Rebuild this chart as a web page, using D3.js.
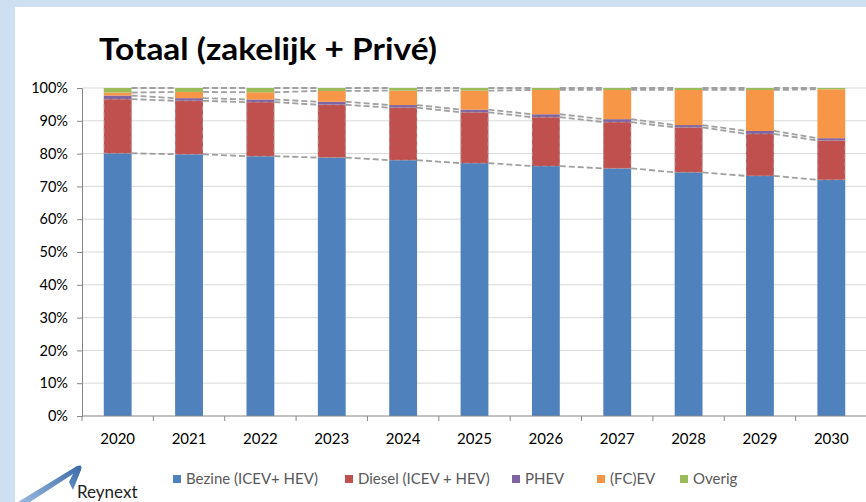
<!DOCTYPE html>
<html><head><meta charset="utf-8">
<script src="https://cdn.jsdelivr.net/npm/d3@7"></script>
<style>body{margin:0;padding:0;overflow:hidden;background:#cddff0}svg{display:block}</style>
</head><body>
<svg id="chart" width="866" height="502"></svg>
<script>
const years = ["2020","2021","2022","2023","2024","2025","2026","2027","2028","2029","2030"];
const bezine = [80.1, 79.8, 79.2, 78.8, 78.0, 77.1, 76.2, 75.5, 74.3, 73.2, 72.0];
const diesel = [16.5, 16.3, 16.5, 16.1, 16.0, 15.5, 14.9, 14.1, 13.7, 12.8, 12.0];
const phev   = [1.1, 0.8, 0.8, 0.9, 0.8, 0.8, 0.9, 0.9, 0.7, 0.9, 0.7];
const fcev   = [0.9, 1.9, 2.2, 3.3, 4.4, 5.8, 7.4, 8.9, 10.7, 12.5, 14.9];
const overig = [1.4, 1.2, 1.3, 0.9, 0.8, 0.8, 0.6, 0.6, 0.6, 0.6, 0.4];
const seriesNames = ["Bezine (ICEV+ HEV)", "Diesel (ICEV + HEV)", "PHEV", "(FC)EV", "Overig"];
const yTicks = [0,10,20,30,40,50,60,70,80,90,100];
const title = "Totaal (zakelijk + Privé)";

const colors = ["#4f81bd", "#c0504d", "#8064a2", "#f79646", "#9bbb59"];
const keys = ["b","d","p","f","o"];
const rows = years.map((y,i)=>({year:y, b:bezine[i], d:diesel[i], p:phev[i], f:fcev[i], o:overig[i]}));
const stacked = d3.stack().keys(keys)(rows);

const svg = d3.select("#chart");
const font = "Lato, 'Open Sans', sans-serif";

// background panel
svg.append("rect").attr("x",0).attr("y",0).attr("width",866).attr("height",502).attr("fill","#cddff0");
svg.append("rect").attr("x",15).attr("y",7).attr("width",851).attr("height",495).attr("fill","#ffffff");

const x = d3.scaleBand().domain(years).range([82, 867]).paddingInner(0.61).paddingOuter(0.305);
const y = d3.scaleLinear().domain([0,100]).range([416, 88]);

// gridlines
svg.append("g").selectAll("line").data(yTicks.filter(t=>t>0)).join("line")
  .attr("x1",82).attr("x2",866).attr("y1",d=>y(d)).attr("y2",d=>y(d))
  .attr("stroke","#d9d9d9").attr("stroke-width",1);

// bars
const g = svg.append("g");
stacked.forEach((s,si)=>{
  g.append("g").selectAll("rect").data(s).join("rect")
    .attr("x",d=>x(d.data.year)).attr("width",x.bandwidth())
    .attr("y",d=>y(d[1])).attr("height",d=>y(d[0])-y(d[1]))
    .attr("fill",colors[si]);
});

// series lines (dashed connectors)
const sl = svg.append("g").attr("fill","none").attr("stroke","#a0a0a0").attr("stroke-width",1.8).attr("stroke-dasharray","6,3");
stacked.forEach((s)=>{
  for(let i=0;i<s.length-1;i++){
    sl.append("line")
      .attr("x1", x(years[i])+x.bandwidth()).attr("y1", y(s[i][1]))
      .attr("x2", x(years[i+1])).attr("y2", y(s[i+1][1]));
  }
});
// dashed outline on diesel segments
svg.append("g").selectAll("rect").data(stacked[1]).join("rect")
  .attr("x",d=>x(d.data.year)+0.5).attr("width",x.bandwidth()-1)
  .attr("y",d=>y(d[1])).attr("height",d=>y(d[0])-y(d[1]))
  .attr("fill","none").attr("stroke","#b0a0a0").attr("stroke-width",1).attr("stroke-dasharray","5,3").attr("opacity",0.6);

// y axis
const yAxis = d3.axisLeft(y).tickValues(yTicks).tickFormat(d=>d+"%").tickSize(5).tickPadding(9);
const ya = svg.append("g").attr("transform","translate(82,0)").call(yAxis);
ya.select(".domain").attr("stroke","#868686");
ya.selectAll(".tick line").attr("stroke","#868686");
ya.selectAll("text").attr("font-family",font).attr("font-size",14.5).attr("fill","#000");

// x axis
const xa = svg.append("g").attr("transform","translate(0,416)");
xa.append("line").attr("x1",82).attr("x2",866).attr("stroke","#868686");
xa.selectAll("line.tk").data(years).join("line").attr("class","tk")
  .attr("x1",d=>x(d)-x.step()*x.paddingInner()/2).attr("x2",d=>x(d)-x.step()*x.paddingInner()/2)
  .attr("y1",0).attr("y2",5).attr("stroke","#868686");
xa.selectAll("text").data(years).join("text")
  .attr("x",d=>x(d)+x.bandwidth()/2).attr("y",28).attr("text-anchor","middle")
  .attr("font-family",font).attr("font-size",15).attr("fill","#000").text(d=>d);

// title
svg.append("text").attr("x",99).attr("y",60).attr("font-family",font).attr("font-weight","bold")
  .attr("font-size",31).attr("fill","#000")
  .attr("textLength",338).attr("lengthAdjust","spacingAndGlyphs").text(title);

// legend
const legX = [173, 345, 512, 597, 680];
const lg = svg.append("g").attr("font-family",font).attr("font-size",15).attr("fill","#595959");
seriesNames.forEach((n,i)=>{
  lg.append("rect").attr("x",legX[i]).attr("y",475).attr("width",8).attr("height",8).attr("fill",colors[i]);
  lg.append("text").attr("x",legX[i]+13).attr("y",484).text(n);
});

// logo
const logo = svg.append("g");
const grad = svg.append("defs").append("linearGradient").attr("id","lg1").attr("x1","0").attr("y1","1").attr("x2","1").attr("y2","0");
grad.append("stop").attr("offset","0").attr("stop-color","#9ab9e0");
grad.append("stop").attr("offset","1").attr("stop-color","#3a6aa8");
logo.append("path").attr("d","M18,502 L77,466 Q83,464 81,470 L73,490 L69,482 L73,474 L30,502 Z").attr("fill","url(#lg1)");
logo.append("text").attr("x",77).attr("y",498).attr("font-family",font).attr("font-size",17).attr("fill","#222").text("Reynext");
</script>
</body></html>
